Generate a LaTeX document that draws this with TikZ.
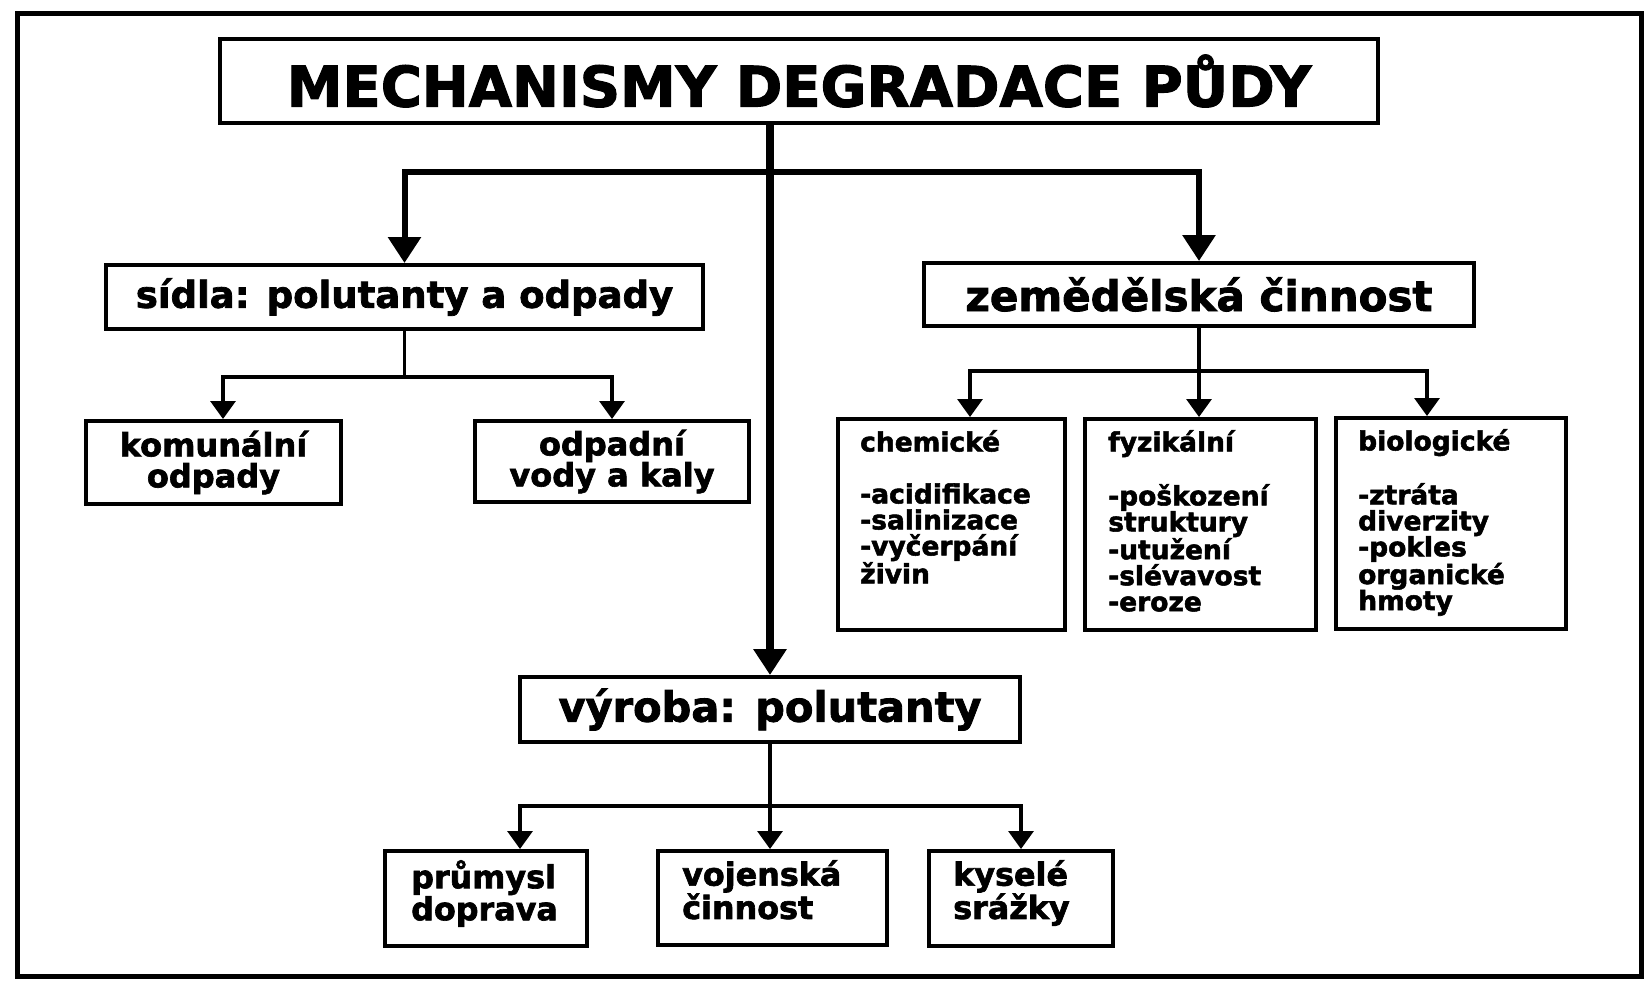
\documentclass[tikz,border=0pt]{standalone}
\usepackage{fontspec}
\setmainfont{DejaVu Sans}[BoldFeatures={FakeBold=2}]
\usetikzlibrary{arrows.meta}
\tikzset{
  bigtip/.tip={Triangle[width=32pt,length=26pt]},
  smalltip/.tip={Triangle[width=25pt,length=18pt]}
}
\begin{document}
\begin{tikzpicture}[x=1pt,y=-1pt,
  box/.style={draw, line width=4pt, rectangle, inner sep=0pt, align=center},
  trunk/.style={line width=6pt, line join=miter},
  thin/.style={line width=3.3pt, line join=miter},
  txt/.style={inner sep=0pt, anchor=north west, align=left, font=\bfseries\fontsize{26.5}{26}\selectfont},
  txtb/.style={inner sep=0pt, anchor=north west, align=left, font=\bfseries\fontsize{31.8}{31}\selectfont}
]
\useasboundingbox (0,0) rectangle (1652,983);
\draw[line width=5pt] (17,13) rectangle (1641,976);

\node[box, minimum width=1158pt, minimum height=84pt, font=\bfseries\fontsize{56}{56}\selectfont] (title) at (799,81) {MECHANISMY DEGRADACE PŮDY};
\node[box, minimum width=597pt, minimum height=64pt, font=\bfseries\fontsize{37}{37}\selectfont] (sidla) at (404.5,297) {sídla: polutanty a odpady};
\node[box, minimum width=550pt, minimum height=63pt, font=\bfseries\fontsize{42}{42}\selectfont] (zem) at (1199,294.5) {zemědělská činnost};
\node[box, minimum width=255pt, minimum height=83pt, font=\bfseries\fontsize{32}{31}\selectfont] (kom) at (213.5,462.5) {komunální\\odpady};
\node[box, minimum width=274pt, minimum height=81pt, font=\bfseries\fontsize{32}{31}\selectfont] (odp) at (612,461.5) {odpadní\\vody a kaly};
\node[box, minimum width=227pt, minimum height=211pt] (chem) at (951.5,524.5) {};
\node[box, minimum width=231pt, minimum height=211pt] (fyz) at (1200.5,524.5) {};
\node[box, minimum width=230pt, minimum height=211pt] (bio) at (1451,523.5) {};
\node[box, minimum width=500pt, minimum height=65pt, font=\bfseries\fontsize{41.5}{41.5}\selectfont] (vyr) at (770,709.5) {výroba: polutanty};
\node[box, minimum width=202pt, minimum height=95pt] (pru) at (486,898.5) {};
\node[box, minimum width=229pt, minimum height=94pt] (voj) at (772.5,898) {};
\node[box, minimum width=184pt, minimum height=95pt] (kys) at (1021,898.5) {};

\node[txt] (chemt) at ([shift={(24,13)}]chem.north west) {chemické\\[26pt]-acidifikace\\-salinizace\\-vyčerpání\\živin};
\node[txt] (fyzt) at ([shift={(25,13)}]fyz.north west) {fyzikální\\[26pt]-poškození\\struktury\\-utužení\\-slévavost\\-eroze};
\node[txt] (biot) at ([shift={(24,13)}]bio.north west) {biologické\\[26pt]-ztráta\\diverzity\\-pokles\\organické\\hmoty};
\node[txtb] (prut) at ([shift={(28,11)}]pru.north west) {průmysl\\doprava};
\node[txtb] (vojt) at ([shift={(26,11)}]voj.north west) {vojenská\\činnost};
\node[txtb] (kyst) at ([shift={(26,11)}]kys.north west) {kyselé\\srážky};

% main trunk
\draw[trunk, line width=7.5pt, -bigtip] (title.south -| vyr.north) -- (vyr.north);
\coordinate (hb) at (770,172);
\draw[trunk, bigtip-bigtip] (sidla.north) -- (hb -| sidla.north) -- (hb -| zem.north) -- (zem.north);

% sidla branch
\coordinate (sb) at (405,377);
\draw[thin] (sidla.south) -- (sidla.south |- sb);
\draw[thin, smalltip-smalltip] ([xshift=9.5pt]kom.north) -- ([xshift=9.5pt]kom.north |- sb) -- (odp.north |- sb) -- (odp.north);

% zem branch
\coordinate (zb) at (1199,371);
\draw[thin, -smalltip] (zem.south) -- (zem.south |- fyz.north);
\draw[thin, smalltip-smalltip] ([xshift=18.5pt]chem.north) -- ([xshift=18.5pt]chem.north |- zb) -- ([xshift=-24pt]bio.north |- zb) -- ([xshift=-24pt]bio.north);

% vyroba branch
\coordinate (vb) at (770,806);
\draw[thin, -smalltip] (vyr.south) -- (vyr.south |- voj.north);
\draw[thin, smalltip-smalltip] ([xshift=34pt]pru.north) -- ([xshift=34pt]pru.north |- vb) -- (kys.north |- vb) -- (kys.north);
\end{tikzpicture}
\end{document}
